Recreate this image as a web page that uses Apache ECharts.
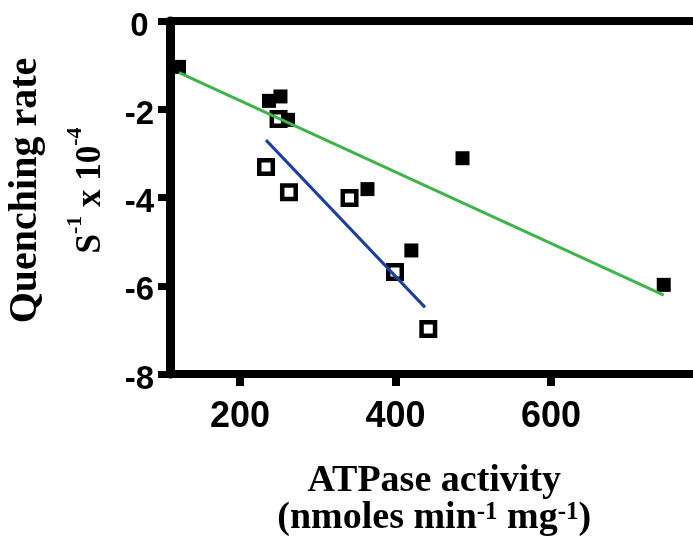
<!DOCTYPE html>
<html>
<head>
<meta charset="utf-8">
<script src="https://cdn.jsdelivr.net/npm/echarts@6/dist/echarts.min.js"></script>
<style>
  html, body { margin: 0; padding: 0; background: #fff; }
  #chart { width: 693px; height: 556px; }
</style>
</head>
<body>
<div id="chart"></div>
<script>
// Tick values on the ATPase axis
const xTicks = [200, 400, 600];

// Filled squares
const closedX = [121.6, 237.3, 252.1, 261.8, 364.0, 420.4, 486.2, 745.0];
const closedY = [-1.04, -1.81, -1.71, -2.24, -3.81, -5.20, -3.11, -5.98];

// Open squares
const openX = [233.5, 249.6, 263.0, 340.9, 399.4, 442.2];
const openY = [-3.31, -2.22, -3.88, -4.01, -5.69, -6.98];

// Fitted lines (end points)
const closedFitX = [121.6, 745.0];
const closedFitY = [-1.17, -6.21];
const openFitX = [233.5, 438.0];
const openFitY = [-2.70, -6.49];

const pairs = (xs, ys) => xs.map((x, i) => [x, ys[i]]);

const SANS = '"Liberation Sans", Arial, sans-serif';
const SERIF = '"Liberation Serif", "Times New Roman", serif';

const chart = echarts.init(document.getElementById('chart'), null, { renderer: 'canvas' });

chart.setOption({
  animation: false,
  backgroundColor: '#fff',
  grid: { left: 170, top: 21, right: -13.5, bottom: 182, containLabel: false, outerBoundsMode: 'none' },
  xAxis: [
    {
      type: 'value',
      position: 'bottom',
      min: 110,
      max: 800,
      splitLine: { show: false },
      axisLine: { show: true, onZero: false, lineStyle: { color: '#000', width: 8 } },
      axisTick: { show: true, customValues: xTicks, length: 12, lineStyle: { color: '#000', width: 8 } },
      axisLabel: {
        customValues: xTicks,
        color: '#000', fontFamily: SANS, fontWeight: 'bold', fontSize: 36, margin: 25
      },
      name: '{a|ATPase activity}\n{a|(nmoles min}{s|-1}{a| mg}{s|-1}{a|)}',
      nameLocation: 'middle',
      nameGap: 89,
      nameMoveOverlap: false,
      nameTextStyle: {
        padding: [0, 8, 0, 0],
        rich: {
          a: { fontFamily: SERIF, fontWeight: 'bold', fontSize: 38, color: '#000', lineHeight: 37, verticalAlign: 'bottom' },
          s: { fontFamily: SERIF, fontWeight: 'bold', fontSize: 25, color: '#000', lineHeight: 37, verticalAlign: 'top' }
        }
      }
    },
    {
      type: 'value',
      position: 'top',
      min: 110,
      max: 800,
      splitLine: { show: false },
      axisLine: { show: true, onZero: false, lineStyle: { color: '#000', width: 8 } },
      axisTick: { show: false },
      axisLabel: { show: false }
    }
  ],
  yAxis: {
    type: 'value',
    min: -8,
    max: 0,
    interval: 2,
    splitLine: { show: false },
    axisLine: { show: true, onZero: false, lineStyle: { color: '#000', width: 9 } },
    axisTick: { show: true, length: 12, lineStyle: { color: '#000', width: 7 } },
    axisLabel: {
      color: '#000', fontFamily: SANS, fontWeight: 'bold', fontSize: 33,
      align: 'center', verticalAlign: 'top', lineHeight: 11, margin: 30.5
    },
    name: '{q|Quenching rate}\n{a|S}{s|-1}{a| x 10}{s|-4}',
    nameLocation: 'middle',
    nameRotate: 90,
    nameGap: 62,
    nameMoveOverlap: false,
    nameTextStyle: {
      padding: [0, 0, 0, 14],
      rich: {
        q: { fontFamily: SERIF, fontWeight: 'bold', fontSize: 40, color: '#000', lineHeight: 77, verticalAlign: 'middle' },
        a: { fontFamily: SERIF, fontWeight: 'bold', fontSize: 35, color: '#000', lineHeight: 44, verticalAlign: 'bottom' },
        s: { fontFamily: SERIF, fontWeight: 'bold', fontSize: 22, color: '#000', lineHeight: 44, verticalAlign: 'top' }
      }
    }
  },
  series: [
    {
      type: 'scatter',
      data: pairs(openX, openY),
      symbol: 'rect',
      symbolSize: 13.5,
      itemStyle: { color: '#fff', borderColor: '#000', borderWidth: 4.5, opacity: 1 },
      z: 2
    },
    {
      type: 'scatter',
      data: pairs(closedX, closedY),
      symbol: 'rect',
      symbolSize: 14,
      itemStyle: { color: '#000', opacity: 1 },
      z: 2
    },
    {
      type: 'line',
      data: pairs(closedFitX, closedFitY),
      showSymbol: false,
      symbol: 'none',
      lineStyle: { color: '#3fb44b', width: 3 },
      z: 3
    },
    {
      type: 'line',
      data: pairs(openFitX, openFitY),
      showSymbol: false,
      symbol: 'none',
      lineStyle: { color: '#1f3f9e', width: 3 },
      z: 3
    }
  ]
});
</script>
</body>
</html>
